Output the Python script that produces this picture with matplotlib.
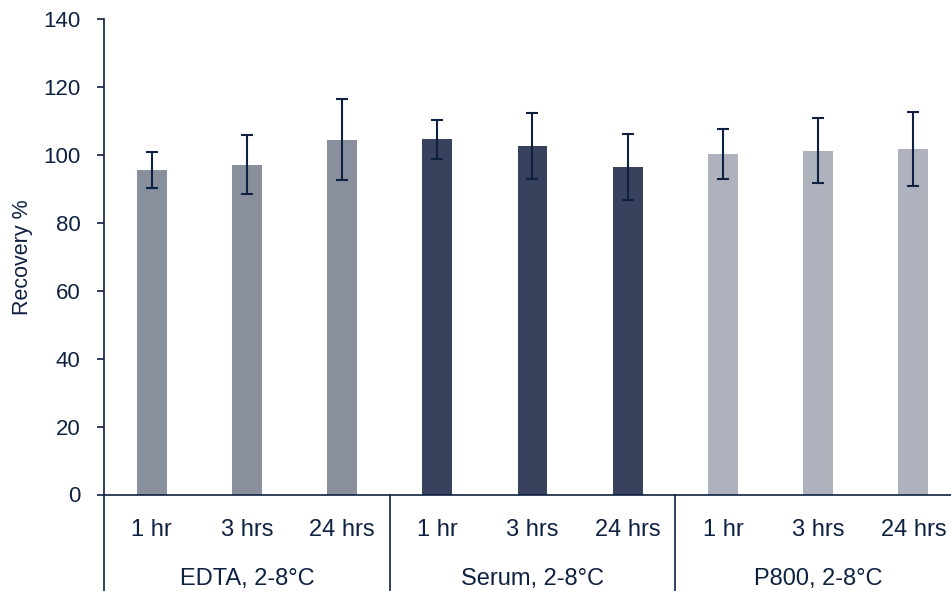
import numpy as np
import matplotlib
matplotlib.use("Agg")
import matplotlib.pyplot as plt
import matplotlib.transforms as mtransforms

plt.rcParams['font.family'] = ['Liberation Sans', 'DejaVu Sans']

groups = ["EDTA, 2-8°C", "Serum, 2-8°C", "P800, 2-8°C"]
times = ["1 hr", "3 hrs", "24 hrs"]
recovery = [95.5, 97.1, 104.5, 104.6, 102.6, 96.4, 100.3, 101.2, 101.8]
errors = [5.3, 8.6, 12.0, 5.7, 9.6, 9.8, 7.4, 9.6, 10.9]
group_colors = ["#8a8f9e", "#38425c", "#adb2bc"]

ink = "#0e2141"

fig = plt.figure(figsize=(9.51, 5.91), dpi=100)
ax = fig.add_axes([104 / 951, 96.5 / 591, 857 / 951, 475.5 / 591])

x = np.arange(len(recovery))
colors = [group_colors[i // 3] for i in range(len(recovery))]
ax.bar(x, recovery, width=0.315, color=colors, zorder=2,
       yerr=errors, capsize=4.5,
       error_kw=dict(ecolor=ink, elinewidth=1.5, capthick=1.5))

ax.set_xlim(-0.5, len(recovery) - 0.5)
ax.set_ylim(0, 140)
ax.set_yticks(range(0, 141, 20))
ax.set_xticks([])
ax.tick_params(axis='y', colors=ink, labelsize=16, length=5, width=1.2, pad=12)
for s in ['top', 'right']:
    ax.spines[s].set_visible(False)
for s in ['left', 'bottom']:
    ax.spines[s].set_color(ink)
    ax.spines[s].set_linewidth(1.2)
ax.set_ylabel("Recovery %", color=ink, fontsize=15.5, labelpad=7)

trans = mtransforms.blended_transform_factory(ax.transData, ax.transAxes)
for i in x:
    ax.text(i, -0.075, times[i % 3], transform=trans, ha='center', va='center',
            fontsize=17, color=ink)
for g, name in enumerate(groups):
    ax.text(3 * g + 1, -0.178, name, transform=trans, ha='center', va='center',
            fontsize=17, color=ink)
for b in [-0.5, 2.5, 5.5]:
    ax.plot([b, b], [0, -0.21], transform=trans, color=ink, lw=1.2, clip_on=False)

fig.savefig("out.png", dpi=100)
